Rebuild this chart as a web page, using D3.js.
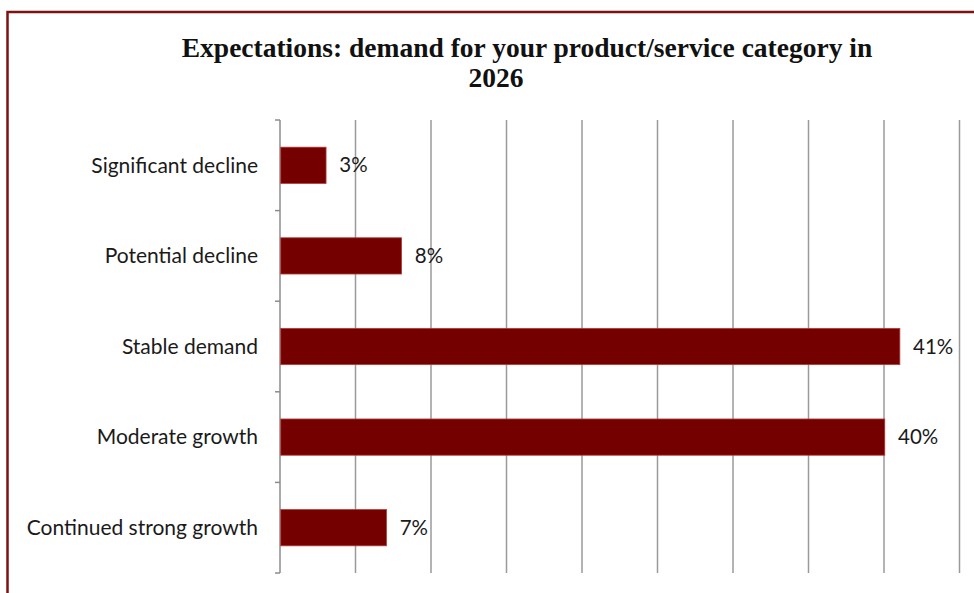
<!DOCTYPE html>
<html>
<head>
<meta charset="utf-8">
<script src="https://cdn.jsdelivr.net/npm/d3@7"></script>
<style>
  html, body { margin: 0; padding: 0; background: #fff; }
  svg { display: block; }
</style>
</head>
<body>
<svg id="chart" width="974" height="593"></svg>
<script>
// Survey responses: expected demand in 2026
const categories = [
  "Significant decline",
  "Potential decline",
  "Stable demand",
  "Moderate growth",
  "Continued strong growth"
];
const shares = [3, 8, 41, 40, 7];          // percent of respondents
const gridTicks = [0, 5, 10, 15, 20, 25, 30, 35, 40, 45];
const titleLines = ["Expectations: demand for your product/service category in", "2026"];

const svg = d3.select("#chart");

// Dark red frame around the panel
svg.append("rect")
  .attr("x", 7.5).attr("y", 12)
  .attr("width", 990).attr("height", 600)
  .attr("fill", "none")
  .attr("stroke", "#7d1212")
  .attr("stroke-width", 2.5);

const margin = { left: 280, right: 14.5, top: 120, bottom: 20 };
const W = 974, H = 593;
const labelFont = "Lato, 'Open Sans', sans-serif";

const x = d3.scaleLinear()
  .domain([0, 45])
  .range([margin.left, W - margin.right]);

const y = d3.scaleBand()
  .domain(categories)
  .range([margin.top, H - margin.bottom])
  .paddingInner(0.6)
  .paddingOuter(0.3);

// Vertical gridlines
svg.append("g")
  .selectAll("line")
  .data(gridTicks.slice(1))
  .join("line")
  .attr("x1", d => x(d)).attr("x2", d => x(d))
  .attr("y1", margin.top).attr("y2", H - margin.bottom)
  .attr("stroke", "#9a9a9a")
  .attr("stroke-width", 1.5);

// Category axis with tick marks between bands
const bandEdges = d3.range(categories.length + 1)
  .map(i => margin.top + i * (H - margin.bottom - margin.top) / categories.length);
const axisG = svg.append("g");
axisG.append("line")
  .attr("x1", margin.left).attr("x2", margin.left)
  .attr("y1", margin.top).attr("y2", H - margin.bottom)
  .attr("stroke", "#8c8c8c").attr("stroke-width", 1.5);
axisG.selectAll("line.tick")
  .data(bandEdges)
  .join("line")
  .attr("class", "tick")
  .attr("x1", margin.left - 5).attr("x2", margin.left)
  .attr("y1", d => d).attr("y2", d => d)
  .attr("stroke", "#8c8c8c").attr("stroke-width", 1.5);

const bandCenter = c => y(c) + y.bandwidth() / 2;

axisG.selectAll("text.cat")
  .data(categories)
  .join("text")
  .attr("class", "cat")
  .attr("x", margin.left - 22)
  .attr("y", d => bandCenter(d))
  .attr("dy", "0.35em")
  .attr("text-anchor", "end")
  .attr("font-family", labelFont)
  .attr("font-size", 21)
  .attr("fill", "#1a1a1a")
  .text(d => d);

// Bars
const rows = categories.map((c, i) => ({ cat: c, value: shares[i] }));
svg.append("g")
  .selectAll("rect")
  .data(rows)
  .join("rect")
  .attr("x", x(0) + 0.75)
  .attr("y", d => y(d.cat))
  .attr("width", d => x(d.value) - x(0))
  .attr("height", y.bandwidth())
  .attr("fill", "#750000")
  .attr("stroke", "#b23a3a")
  .attr("stroke-width", 0.8);

// Value labels
svg.append("g")
  .selectAll("text")
  .data(rows)
  .join("text")
  .attr("x", d => x(d.value) + 14)
  .attr("y", d => bandCenter(d.cat))
  .attr("dy", "0.35em")
  .attr("font-family", labelFont)
  .attr("font-size", 20.5)
  .attr("fill", "#1a1a1a")
  .text(d => d.value + "%");

// Title, two centred lines
const titleFont = "'Liberation Serif', 'Times New Roman', serif";
svg.append("text")
  .attr("x", 527).attr("y", 57)
  .attr("text-anchor", "middle")
  .attr("font-family", titleFont)
  .attr("font-weight", "bold")
  .attr("font-size", 27.5)
  .attr("fill", "#111")
  .text(titleLines[0]);
svg.append("text")
  .attr("x", 496).attr("y", 87)
  .attr("text-anchor", "middle")
  .attr("font-family", titleFont)
  .attr("font-weight", "bold")
  .attr("font-size", 27.5)
  .attr("fill", "#111")
  .text(titleLines[1]);
</script>
</body>
</html>
